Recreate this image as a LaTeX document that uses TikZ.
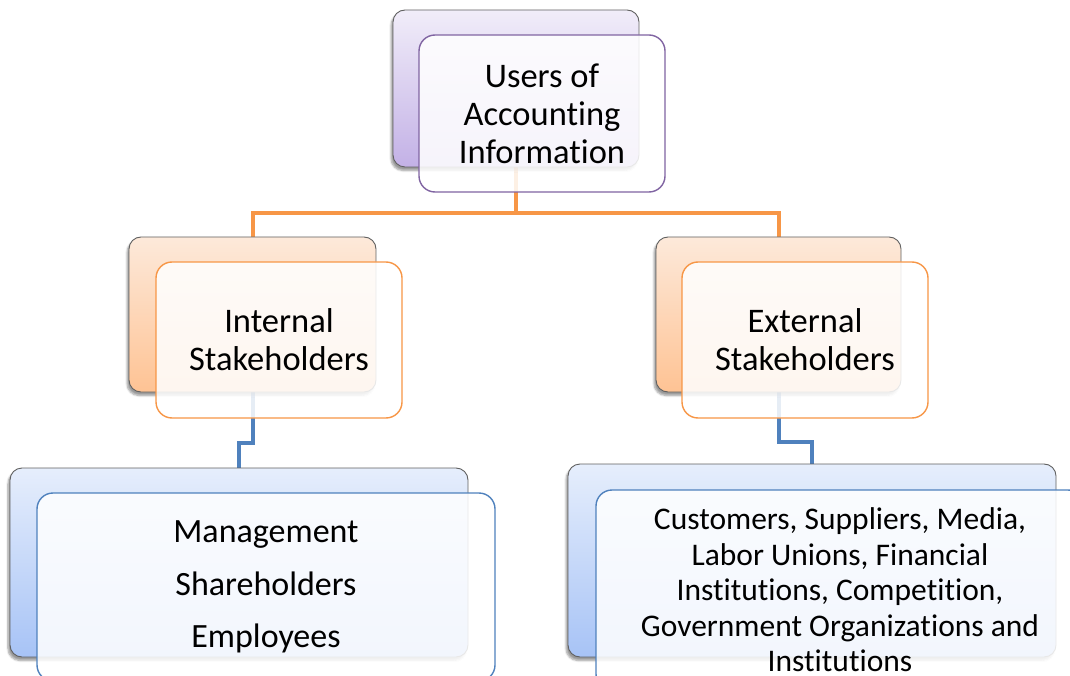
\documentclass[tikz,border=0pt]{standalone}
\usepackage{fontspec}
\setmainfont{Carlito}[Ligatures=NoCommon]
\usetikzlibrary{positioning, calc, shadows.blur, backgrounds}
\usepackage{xcolor}
\definecolor{purpleline}{HTML}{8064A2}
\definecolor{orangeline}{HTML}{F79646}
\definecolor{blueline}{HTML}{4F81BD}
\definecolor{purpletop}{HTML}{F1EDF9}
\definecolor{purplebottom}{HTML}{C3B1E6}
\definecolor{orangetop}{HTML}{FDE9DA}
\definecolor{orangebottom}{HTML}{FEC394}
\definecolor{bluetop}{HTML}{E6EEFC}
\definecolor{bluebottom}{HTML}{A7C3F6}
\tikzstyle{backbox} = [%
  rectangle,
  rounded corners=12pt,
  draw=gray!75!black,
  line width=0.9pt,
  inner sep=0pt,
  blur shadow={shadow xshift=-2pt, shadow yshift=-3.5pt, shadow blur steps=6, shadow opacity=40}
]
\tikzstyle{frontbox} = [%
  rectangle,
  rounded corners=16pt,
  line width=1.4pt,
  fill=white,
  fill opacity=0.86,
  text opacity=1,
  align=center,
  text centered,
  inner sep=0pt
]

\begin{document}
\begin{tikzpicture}[%
  x=1pt, y=-1pt,
  bigtext/.style={font=\fontsize{34.5}{38}\selectfont},
  listtext/.style={font=\fontsize{34}{52.5}\selectfont},
  smalltext/.style={font=\fontsize{31.5}{35.5}\selectfont},
  orangelink/.style={draw=orangeline, line width=4pt},
  bluelink/.style={draw=blueline, line width=4pt}
]
  \useasboundingbox (0,0) rectangle (1070,676);
  \clip (0,0) rectangle (1070,676);

  % Back boxes
  \node[backbox, minimum width=246pt, minimum height=157pt,
        top color=purpletop, bottom color=purplebottom] (Tb) at (516,88.5) {};
  \node[backbox, minimum width=247pt, minimum height=155pt,
        top color=orangetop, bottom color=orangebottom] (Ib) at (252.5,314.5) {};
  \node[backbox, minimum width=245pt, minimum height=155pt,
        top color=orangetop, bottom color=orangebottom] (Eb) at (778.5,314.5) {};
  \node[backbox, minimum width=458pt, minimum height=189pt,
        top color=bluetop, bottom color=bluebottom] (Mb) at (239,562.5) {};
  \node[backbox, minimum width=488pt, minimum height=193pt,
        top color=bluetop, bottom color=bluebottom] (Xb) at (812,560.5) {};

  % Edges
  \begin{scope}[on background layer]
    \draw[orangelink] (Tb.south) -- ++(0,46) -| (Ib.north);
    \draw[orangelink] (Tb.south) -- ++(0,46) -| (Eb.north);
    \draw[bluelink] (Ib.south) -- ++(0,51) -| (Mb.north);
    \draw[bluelink] (Eb.south) -- ++(0,50) -| (Xb.north);
  \end{scope}

  % Front boxes
  \node[frontbox, bigtext, draw=purpleline, minimum width=246pt, minimum height=157pt]
    (T) at ($(Tb)+(26,25)$) {Users of\\Accounting\\Information};
  \node[frontbox, bigtext, draw=orangeline, minimum width=246pt, minimum height=156pt]
    (I) at ($(Ib)+(26.5,25.5)$) {Internal\\Stakeholders};
  \node[frontbox, bigtext, draw=orangeline, minimum width=246pt, minimum height=156pt]
    (E) at ($(Eb)+(26.5,25.5)$) {External\\Stakeholders};
  \node[frontbox, listtext, draw=blueline, minimum width=458pt, minimum height=188pt]
    (M) at ($(Mb)+(27,24.5)$) {Management\\Shareholders\\Employees};
  \node[frontbox, smalltext, draw=blueline, minimum width=488pt, minimum height=200pt]
    (X) at ($(Xb)+(28,29.5)$) {Customers, Suppliers, Media,\\Labor Unions, Financial\\Institutions, Competition,\\Government Organizations and\\Institutions};

\end{tikzpicture}
\end{document}
